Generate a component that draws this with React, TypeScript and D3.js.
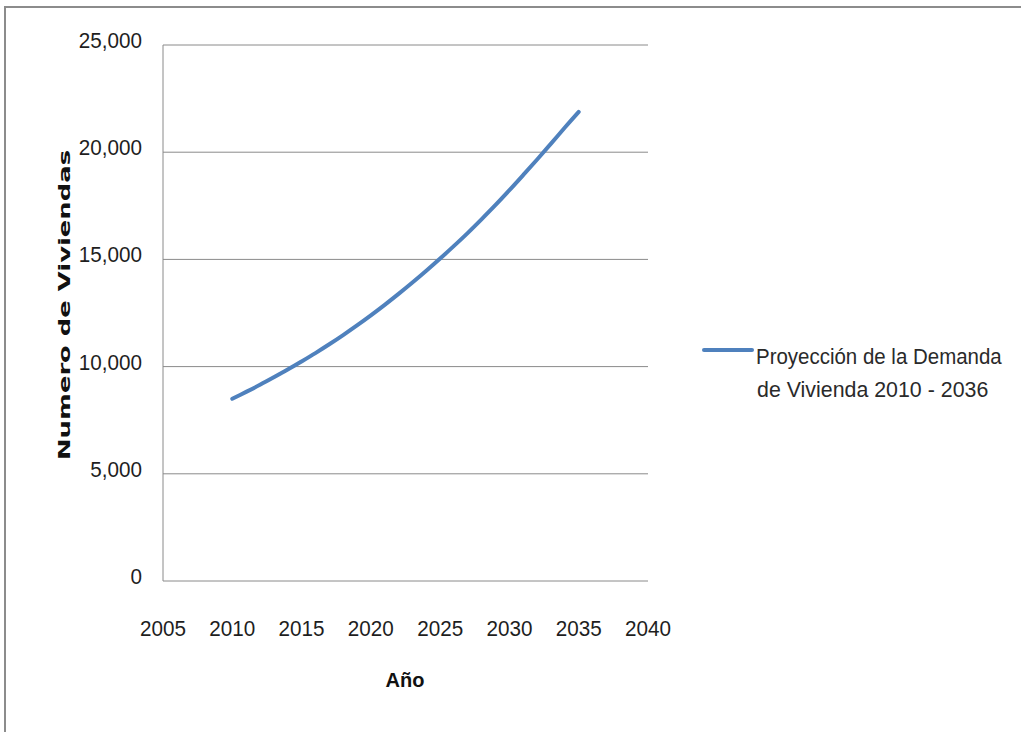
import React from "react";
import * as d3 from "d3";

// Projected housing demand, one value per year
const years = [
  2010, 2011, 2012, 2013, 2014, 2015, 2016, 2017, 2018, 2019, 2020, 2021, 2022,
  2023, 2024, 2025, 2026, 2027, 2028, 2029, 2030, 2031, 2032, 2033, 2034, 2035,
];
const demand = [
  8500, 8820, 9150, 9500, 9860, 10240, 10630, 11040, 11470, 11920, 12390,
  12880, 13390, 13920, 14470, 15040, 15630, 16240, 16880, 17540, 18230, 18940,
  19660, 20400, 21150, 21880,
];
const xTicks = [2005, 2010, 2015, 2020, 2025, 2030, 2035, 2040];
const yTicks = [0, 5000, 10000, 15000, 20000, 25000];
const seriesName = ["Proyección de la Demanda", "de Vivienda 2010 - 2036"];
const xTitle = "Año";
const yTitle = "Numero de Viviendas";

const W = 1021;
const H = 732;
const plot = { left: 163, right: 648, top: 45, bottom: 581 };
const sans = "'Liberation Sans', Arial, sans-serif";
const grid = "#8a8a8a";
const blue = "#4f81bd";

export default function App() {
  const x = d3.scaleLinear().domain([2005, 2040]).range([plot.left, plot.right]);
  const y = d3.scaleLinear().domain([0, 25000]).range([plot.bottom, plot.top]);
  const fmt = d3.format(",");
  const points = years.map((yr, i) => [yr, demand[i]] as [number, number]);
  const line = d3
    .line<[number, number]>()
    .x((d) => x(d[0]))
    .y((d) => y(d[1]))
    .curve(d3.curveCatmullRom);

  return (
    <svg
      width={W}
      height={H}
      style={{ position: "absolute", left: 0, top: 0, background: "#fff" }}
    >
      {/* outer frame */}
      <rect x={5} y={7} width={W + 10} height={H + 10} fill="none" stroke="#8c8c8c" strokeWidth={2} />

      {/* horizontal gridlines and y labels */}
      {yTicks.map((t) => (
        <g key={t}>
          <line x1={plot.left} x2={plot.right} y1={y(t)} y2={y(t)} stroke={grid} strokeWidth={1} />
          <text
            transform={`translate(142, ${y(t) + 3}) scale(0.92, 1)`}
            textAnchor="end"
            fontFamily={sans}
            fontSize={22.5}
            fill="#1e1e1e"
          >
            {fmt(t)}
          </text>
        </g>
      ))}
      <line x1={plot.left} x2={plot.left} y1={plot.top} y2={plot.bottom} stroke={grid} strokeWidth={1} />

      {/* x labels */}
      {xTicks.map((t) => (
        <text
          key={t}
          transform={`translate(${x(t)}, 636) scale(0.92, 1)`}
          textAnchor="middle"
          fontFamily={sans}
          fontSize={22.5}
          fill="#1e1e1e"
        >
          {t}
        </text>
      ))}

      {/* axis titles */}
      <text
        x={405}
        y={687}
        textAnchor="middle"
        fontFamily={sans}
        fontWeight="bold"
        fontSize={20}
        fill="#111"
      >
        {xTitle}
      </text>
      <text
        transform={`translate(70, 305) rotate(-90)`}
        textAnchor="middle"
        fontFamily="'DejaVu Sans', Verdana, sans-serif"
        fontWeight="bold"
        fontSize={16.5}
        textLength={310}
        lengthAdjust="spacingAndGlyphs"
        fill="#111"
      >
        {yTitle}
      </text>

      {/* series */}
      <path d={line(points) ?? ""} fill="none" stroke={blue} strokeWidth={4} strokeLinecap="round" />

      {/* legend */}
      <line x1={704} x2={752} y1={350} y2={350} stroke={blue} strokeWidth={4} strokeLinecap="round" />
      <text
        transform="translate(756, 364) scale(0.91, 1)"
        fontFamily={sans}
        fontSize={22.5}
        fill="#2a2a2a"
      >
        {seriesName[0]}
      </text>
      <text
        transform="translate(757, 397) scale(0.95, 1)"
        fontFamily={sans}
        fontSize={22.5}
        fill="#2a2a2a"
      >
        {seriesName[1]}
      </text>
    </svg>
  );
}
